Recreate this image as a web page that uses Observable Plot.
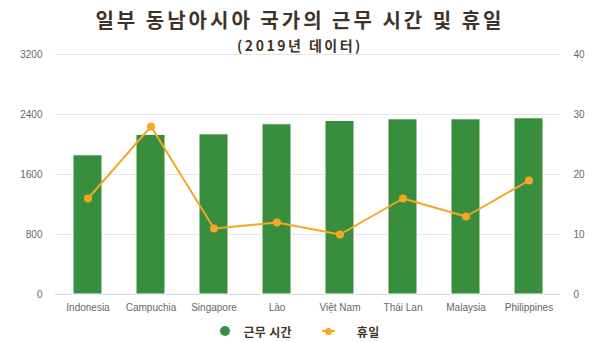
<!DOCTYPE html>
<html>
<head>
<meta charset="utf-8">
<script src="https://cdn.jsdelivr.net/npm/d3@7"></script>
<script src="https://cdn.jsdelivr.net/npm/@observablehq/plot@0.6"></script>
<style>
  html, body { margin: 0; padding: 0; background: #fff; }
  #wrap { position: relative; width: 600px; height: 342px; overflow: hidden; }
  #title { position: absolute; left: 0; top: 0; width: 600px; text-align: center;
    font-family: "Noto Sans CJK KR", sans-serif; color: #3f3327; font-weight: 700; }
  #title .t1 { position: absolute; left: 0; width: 600px; top: 8px; font-size: 20px; line-height: 24px; letter-spacing: 3px; }
  #title .t2 { position: absolute; left: 0; width: 600px; top: 36px; font-size: 14px; line-height: 18px; letter-spacing: 2.5px; }
  #chart { position: absolute; left: 0; top: 0; }
  #legend { position: absolute; left: 0; top: 321px; width: 600px; height: 20px;
    display: flex; justify-content: center; align-items: center;
    font-family: "Noto Sans CJK KR", sans-serif; font-weight: 700; font-size: 12px; letter-spacing: 0.3px; color: #3f3327; }
  .item { display: flex; align-items: center; }
  .item.first { margin-right: 30px; }
  .dot { width: 10px; height: 10px; border-radius: 50%; background: #388e3c; margin-right: 13px; }
  .lsym { position: relative; width: 13px; height: 10px; margin-right: 22px; }
  .lsym .ln { position: absolute; left: 0; top: 4px; width: 13px; height: 2px; background: #f6a623; }
  .lsym .pt { position: absolute; left: 3px; top: 1.5px; width: 7px; height: 7px; border-radius: 50%; background: #f6a623; }
</style>
</head>
<body>
<div id="wrap">
  <div id="chart"></div>
  <div id="title"><div class="t1">일부 동남아시아 국가의 근무 시간 및 휴일</div><div class="t2">(2019년 데이터)</div></div>
  <div id="legend">
    <div class="item first"><div class="dot"></div><span>근무 시간</span></div>
    <div class="item"><div class="lsym"><div class="ln"></div><div class="pt"></div></div><span>휴일</span></div>
  </div>
</div>
<script>
const countries = ["Indonesia", "Campuchia", "Singapore", "Lào", "Việt Nam", "Thái Lan", "Malaysia", "Philippines"];
const workHours = [1856, 2128, 2136, 2270, 2314, 2336, 2336, 2350];
const holidays = [16, 28, 11, 12, 10, 16, 13, 19];
const leftTicks = [0, 800, 1600, 2400, 3200];
const rightTicks = [0, 10, 20, 30, 40];

const ratio = 3200 / 40;
const data = countries.map((c, i) => ({country: c, hours: workHours[i], holidays: holidays[i]}));

const chart = Plot.plot({
  width: 600,
  height: 318,
  marginLeft: 55,
  marginRight: 40,
  marginTop: 54,
  marginBottom: 24,
  style: {fontFamily: "Liberation Sans, Arial, sans-serif", fontSize: "10px", color: "#666666", background: "transparent"},
  x: {domain: countries, paddingInner: 0.54, paddingOuter: 0.27, label: null},
  y: {domain: [0, 3200], label: null},
  marks: [
    Plot.gridY(leftTicks.slice(1), {stroke: "#e6e6e6", strokeOpacity: 1, strokeWidth: 1}),
    Plot.ruleY([0], {stroke: "#ccd6eb", strokeWidth: 1}),
    Plot.barY(data, {x: "country", y: "hours", fill: "#388e3c", stroke: "#ffffff", strokeWidth: 1}),
    Plot.line(data, {x: "country", y: d => d.holidays * ratio, stroke: "#f6a623", strokeWidth: 2}),
    Plot.dot(data, {x: "country", y: d => d.holidays * ratio, r: 4, fill: "#f6a623"}),
    Plot.axisY(leftTicks, {anchor: "left", tickSize: 0, tickPadding: 13, label: null, tickFormat: d => String(d), fill: "#666666"}),
    Plot.axisY(rightTicks.map(t => t * ratio), {anchor: "right", tickSize: 0, tickPadding: 13, label: null, tickFormat: d => String(d / ratio), fill: "#666666"}),
    Plot.axisX({tickSize: 0, tickPadding: 9, label: null, fill: "#666666"})
  ]
});
document.getElementById("chart").appendChild(chart);
</script>
</body>
</html>
